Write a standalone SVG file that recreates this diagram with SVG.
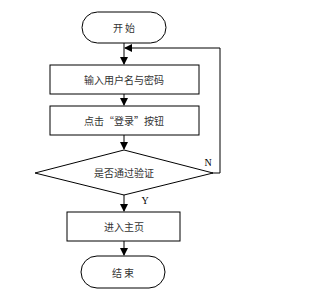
<svg xmlns="http://www.w3.org/2000/svg" width="326" height="296" viewBox="0 0 326 296">
<defs>
<style>
.n{fill:#fff;stroke:#000;stroke-width:1}
.t{font-family:"Noto Sans CJK SC","Liberation Serif",sans-serif;font-size:10px;fill:#333;text-anchor:middle;dominant-baseline:central}
.l{font-family:"Liberation Serif",serif;font-size:10px;fill:#000;text-anchor:middle;dominant-baseline:central}
.c{fill:none;stroke:#000;stroke-width:1}
</style>
<marker id="a" markerWidth="8" markerHeight="8" refX="7" refY="4" orient="auto" markerUnits="userSpaceOnUse">
<path d="M0,0 L8,4 L0,8 Z" fill="#000"/>
</marker>
</defs>
<rect width="326" height="296" fill="#fff"/>
<g id="connectors">
<line class="c" x1="124" y1="43" x2="124" y2="64" marker-end="url(#a)"/>
<line class="c" x1="124" y1="94" x2="124" y2="105" marker-end="url(#a)"/>
<line class="c" x1="124" y1="135" x2="124" y2="149" marker-end="url(#a)"/>
<line class="c" x1="124" y1="194" x2="124" y2="211" marker-end="url(#a)"/>
<line class="c" x1="124" y1="241" x2="124" y2="255" marker-end="url(#a)"/>
<polyline class="c" points="212,173 220,173 220,48 125,48" marker-end="url(#a)"/>
<text class="l" x="208" y="162">N</text>
<text class="l" x="145" y="200">Y</text>
</g>
<g id="start">
<rect class="n" x="82" y="12" width="84" height="31" rx="15.5"/>
<text class="t" x="124" y="27.5">开 始</text>
</g>
<g id="input">
<rect class="n" x="50" y="65" width="149" height="29"/>
<text class="t" x="124" y="79.5">输入用户名与密码</text>
</g>
<g id="click">
<rect class="n" x="50" y="106" width="149" height="29"/>
<text class="t" x="124" y="120.5">点击“登录”按钮</text>
</g>
<g id="verify">
<polygon class="n" points="124,150 213,173 124,195 35,173"/>
<text class="t" x="124" y="172.5">是否通过验证</text>
</g>
<g id="home">
<rect class="n" x="67" y="212" width="113" height="29"/>
<text class="t" x="124" y="226.5">进入主页</text>
</g>
<g id="end">
<rect class="n" x="81" y="256" width="84" height="32" rx="16"/>
<text class="t" x="123" y="272">结 束</text>
</g>
</svg>
